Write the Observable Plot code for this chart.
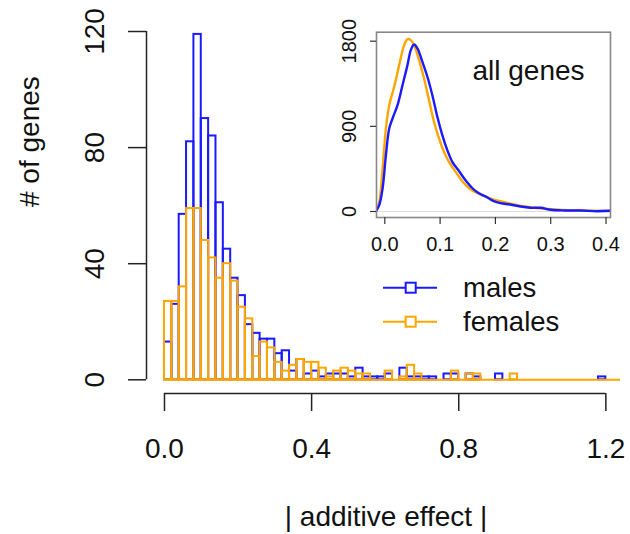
<!DOCTYPE html>
<html>
<head>
<meta charset="utf-8">
<script src="https://cdn.jsdelivr.net/npm/d3@7"></script>
<script src="https://cdn.jsdelivr.net/npm/@observablehq/plot@0.6"></script>
<style>
  html, body { margin: 0; padding: 0; background: #fff; }
  #wrap { position: relative; width: 630px; height: 534px; font-family: "Liberation Sans", Arial, sans-serif; }
  #inset { position: absolute; left: 330px; top: 20px; }
  #legend { position: absolute; left: 370px; top: 265px; }
</style>
</head>
<body>
<div id="wrap"></div>
<script>
// ---- data ----
const binWidth = 0.02;
const maleCounts = [13, 26, 57, 82, 119, 90, 84, 61, 45, 35, 29, 19, 16, 14, 14, 9, 10, 3, 7, 2,
  3, 1, 2, 2, 2, 1, 4, 1, 1, 1, 2, 0, 4, 1, 1, 1, 1, 0, 2, 2,
  0, 2, 1, 0, 0, 2, 0, 0, 0, 0, 0, 0, 0, 0, 0, 0, 0, 0, 0, 1];
const femaleCounts = [27, 27, 32, 59, 59, 48, 42, 35, 40, 34, 25, 21, 8, 13, 11, 6, 3, 5, 7, 6,
  6, 4, 1, 3, 4, 3, 2, 2, 0, 0, 3, 0, 1, 5, 2, 0, 0, 0, 0, 3,
  0, 2, 2, 0, 0, 0, 0, 2, 0, 0, 0, 0, 0, 0, 0, 0, 0, 0, 0, 0, 0, 0];
const xTicks = [0.0, 0.4, 0.8, 1.2];
const yTicks = [0, 40, 80, 120];

const insetXTicks = [0.0, 0.1, 0.2, 0.3, 0.4];
const insetYTicks = [0, 900, 1800];
const maleDensX = [-0.016, -0.010, -0.004, 0.002, 0.008, 0.014, 0.023, 0.032, 0.041, 0.047, 0.053, 0.059, 0.068, 0.077, 0.086, 0.095, 0.104, 0.113, 0.122, 0.135, 0.146, 0.159, 0.168, 0.176, 0.185, 0.197, 0.209, 0.227, 0.245, 0.263, 0.282, 0.300, 0.324, 0.354, 0.384, 0.410];
const maleDensY = [3, 67, 243, 595, 877, 983, 1124, 1335, 1547, 1705, 1765, 1723, 1582, 1424, 1229, 1001, 807, 648, 525, 420, 331, 243, 201, 175, 151, 109, 88, 74, 53, 39, 39, 18, 11, 11, 3, 8];
const femaleDensX = [-0.016, -0.010, -0.004, 0.002, 0.008, 0.017, 0.026, 0.035, 0.041, 0.047, 0.053, 0.062, 0.071, 0.080, 0.089, 0.098, 0.107, 0.116, 0.128, 0.141, 0.153, 0.165, 0.183, 0.201, 0.213, 0.230, 0.250, 0.280, 0.300, 0.330, 0.360, 0.400, 0.410];
const femaleDensY = [3, 99, 454, 877, 1124, 1318, 1547, 1758, 1822, 1811, 1758, 1600, 1406, 1177, 948, 772, 631, 525, 420, 314, 243, 201, 155, 120, 103, 80, 55, 35, 25, 15, 10, 5, 5];

const seriesNames = ["males", "females"];
const BLUE = "#1a1aff";
const ORANGE = "#ffa500";
const AXIS = "#222";

const maleBins = maleCounts.map((c, i) => ({x1: i * binWidth, x2: (i + 1) * binWidth, y: c}));
const femaleBins = femaleCounts.map((c, i) => ({x1: i * binWidth, x2: (i + 1) * binWidth, y: c}));
const maleDens = maleDensX.map((x, i) => ({x, y: maleDensY[i]}));
const femaleDens = femaleDensX.map((x, i) => ({x, y: femaleDensY[i]}));

const xDomain = [-0.0489, 1.2534];
const yDomain = [-4.72, 123.79];
const FONT = "Liberation Sans, Arial, sans-serif";

const main = Plot.plot({
  width: 630, height: 534,
  marginLeft: 146, marginRight: 5, marginTop: 20, marginBottom: 141,
  x: {domain: xDomain},
  y: {domain: yDomain},
  style: {fontFamily: FONT, background: "#fff", color: "#111", overflow: "visible"},
  marks: [
    Plot.rect(maleBins, {x1: "x1", x2: "x2", y1: 0, y2: "y", fill: "none", stroke: BLUE, strokeWidth: 2}),
    Plot.rect(femaleBins, {x1: "x1", x2: "x2", y1: 0, y2: "y", fill: "none", stroke: ORANGE, strokeWidth: 2}),
    Plot.ruleY([0], {x1: femaleBins[0].x1, x2: femaleBins[femaleBins.length - 1].x2, stroke: ORANGE, strokeWidth: 2}),
    // axes
    Plot.ruleY([yDomain[0]], {x1: xTicks[0], x2: xTicks[xTicks.length - 1], stroke: AXIS, strokeWidth: 1.5}),
    Plot.ruleX([xDomain[0]], {y1: yTicks[0], y2: yTicks[yTicks.length - 1], stroke: AXIS, strokeWidth: 1.5}),
    Plot.axisX(xTicks, {tickSize: 18, tickFormat: () => "", label: null, stroke: AXIS, strokeWidth: 1.5}),
    Plot.axisY(yTicks, {tickSize: 18, tickFormat: () => "", label: null, stroke: AXIS, strokeWidth: 1.5}),
    Plot.text(xTicks, {x: d => d, text: d => d.toFixed(1), frameAnchor: "bottom", dy: 56, lineAnchor: "middle", fontSize: 28, fill: "#111"}),
    Plot.text(yTicks, {y: d => d, text: d => String(d), frameAnchor: "left", dx: -51, rotate: -90, textAnchor: "middle", lineAnchor: "middle", fontSize: 28, fill: "#111"}),
    Plot.text(["# of genes"], {text: d => d, frameAnchor: "left", dx: -116, rotate: -90, lineAnchor: "middle", fontSize: 28, fill: "#111"}),
    Plot.text(["| additive effect |"], {text: d => d, frameAnchor: "bottom", dy: 124, lineAnchor: "middle", fontSize: 28, fill: "#111"})
  ]
});

const inset = Plot.plot({
  width: 290, height: 240,
  marginLeft: 46, marginRight: 10, marginTop: 11.7, marginBottom: 43,
  x: {domain: [-0.0150, 0.4081]},
  y: {domain: [-63.4, 1895]},
  style: {fontFamily: FONT, background: "transparent", color: "#111", overflow: "visible"},
  marks: [
    Plot.ruleY([0], {stroke: "#dcdcdc", strokeWidth: 1}),
    Plot.line(femaleDens, {x: "x", y: "y", stroke: ORANGE, strokeWidth: 2.4, curve: "catmull-rom", clip: true}),
    Plot.line(maleDens, {x: "x", y: "y", stroke: BLUE, strokeWidth: 2.4, curve: "catmull-rom", clip: true}),
    Plot.frame({stroke: "#888", strokeWidth: 1.6}),
    Plot.axisX(insetXTicks, {tickSize: 7, tickFormat: () => "", label: null, stroke: "#333", strokeWidth: 1.2}),
    Plot.axisY(insetYTicks, {tickSize: 6, tickFormat: () => "", label: null, stroke: "#333", strokeWidth: 1.2}),
    Plot.text(insetXTicks, {x: d => d, text: d => d.toFixed(1), frameAnchor: "bottom", dy: 26.6, lineAnchor: "middle", fontSize: 20, fill: "#111"}),
    Plot.text(insetYTicks, {y: d => d, text: d => String(d), frameAnchor: "left", dx: -27.4, rotate: -90, textAnchor: "middle", lineAnchor: "middle", fontSize: 20, fill: "#111"}),
    Plot.text(["all genes"], {text: d => d, frameAnchor: "top", dx: 35, dy: 39, lineAnchor: "middle", fontSize: 28, fill: "#111"})
  ]
});

const wrap = document.getElementById("wrap");
wrap.appendChild(main);
const insetDiv = document.createElement("div");
insetDiv.id = "inset";
insetDiv.appendChild(inset);
wrap.appendChild(insetDiv);

// legend
const legendColors = [BLUE, ORANGE];
const ns = "http://www.w3.org/2000/svg";
const leg = document.createElementNS(ns, "svg");
leg.setAttribute("id", "legend");
leg.setAttribute("width", 250);
leg.setAttribute("height", 80);
leg.style.position = "absolute";
leg.style.left = "370px";
leg.style.top = "265px";
seriesNames.forEach((name, i) => {
  const cy = 22.7 + i * 34;
  const line = document.createElementNS(ns, "line");
  line.setAttribute("x1", 13); line.setAttribute("x2", 67);
  line.setAttribute("y1", cy); line.setAttribute("y2", cy);
  line.setAttribute("stroke", legendColors[i]); line.setAttribute("stroke-width", 2);
  leg.appendChild(line);
  const r = document.createElementNS(ns, "rect");
  r.setAttribute("x", 35.7); r.setAttribute("y", cy - 5); r.setAttribute("width", 10); r.setAttribute("height", 10);
  r.setAttribute("fill", "#fff"); r.setAttribute("stroke", legendColors[i]); r.setAttribute("stroke-width", 2);
  leg.appendChild(r);
  const t = document.createElementNS(ns, "text");
  t.setAttribute("x", 93); t.setAttribute("y", cy + 9);
  t.setAttribute("font-size", 27.5); t.setAttribute("font-family", FONT); t.setAttribute("fill", "#111");
  t.textContent = name;
  leg.appendChild(t);
});
wrap.appendChild(leg);
</script>
</body>
</html>
